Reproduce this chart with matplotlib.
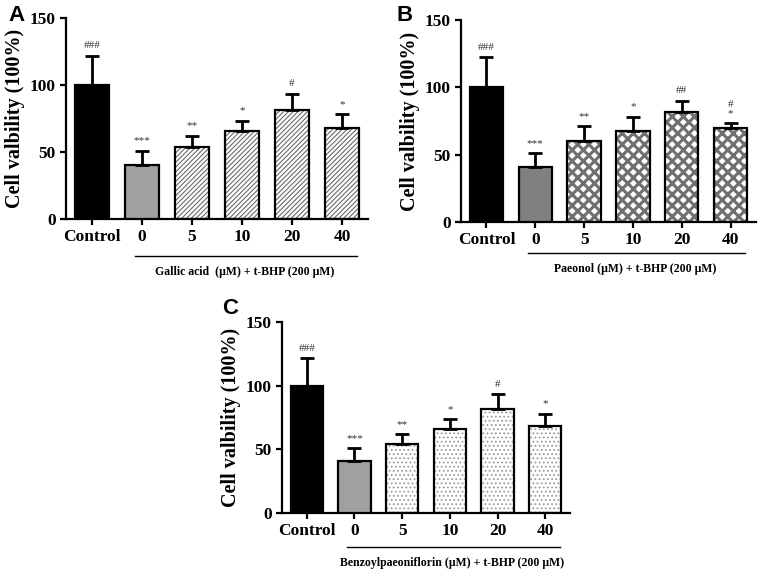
import matplotlib
matplotlib.use("Agg")
import matplotlib.pyplot as plt
import matplotlib.transforms as mtransforms

plt.rcParams["font.family"] = ["Liberation Serif", "DejaVu Serif"]

# ---- data ----
groups = ["Control", "0", "5", "10", "20", "40"]

gallic_mean = [100, 40.5, 54, 66, 81.5, 68]
gallic_err = [22, 10.5, 8, 7.5, 12, 10]
gallic_sig = ["###", "***", "**", "*", "#", "*"]

paeonol_mean = [100, 40.5, 60.5, 67.5, 82, 70]
paeonol_err = [22.5, 10.5, 10.5, 10.5, 8, 3.5]
paeonol_sig = ["###", "***", "**", "*", "##", "#\n*"]

benzoyl_mean = [100, 40.5, 54, 66, 81.5, 68]
benzoyl_err = [22, 10.5, 8, 7.5, 12, 10]
benzoyl_sig = ["###", "***", "**", "*", "#", "*"]

W, H = 768, 573


def px_axes(fig, left, right, y0, y150):
    return fig.add_axes([left / W, 1 - y0 / H, (right - left) / W, (y0 - y150) / H])


def panel(ax, means, errs, sigs, hatch, hatch_color, zero_color, hatch_lw, xlabel, lw_h):
    x = list(range(len(groups)))
    for i, (m, e) in enumerate(zip(means, errs)):
        if i == 0:
            ax.bar(i, m, width=0.68, color="black", edgecolor="black", linewidth=1.6, zorder=3)
        elif i == 1:
            ax.bar(i, m, width=0.68, color=zero_color, edgecolor="black", linewidth=1.6, zorder=3)
        else:
            with plt.rc_context({"hatch.linewidth": hatch_lw}):
                ax.bar(i, m, width=0.68, color="white", edgecolor=hatch_color,
                       hatch=hatch, linewidth=0, zorder=2)
            ax.bar(i, m, width=0.68, color="none", edgecolor="black",
                   linewidth=1.6, zorder=3)
        ax.errorbar(i, m, yerr=[[0], [e]], color="black", capsize=5,
                    elinewidth=2, capthick=2, zorder=4)
        ax.text(i, m + e + 4, sigs[i], ha="center", va="bottom", fontsize=8,
                color="#333333", linespacing=0.9)

    ax.set_xlim(-0.52, 5.52)
    ax.set_ylim(0, 150)
    ax.set_yticks([0, 50, 100, 150])
    ax.set_xticks(x)
    ax.set_xticklabels(groups)
    for lab in ax.get_xticklabels() + ax.get_yticklabels():
        lab.set_fontweight("bold")
        lab.set_fontsize(12.5)
    ax.tick_params(direction="out", width=1.6, length=4)
    for s in ["top", "right"]:
        ax.spines[s].set_visible(False)
    for s in ["left", "bottom"]:
        ax.spines[s].set_linewidth(1.6)
    ax.set_ylabel("Cell valbility (100%)", fontsize=14.5, fontweight="bold", labelpad=3)

    tr = mtransforms.blended_transform_factory(ax.transData, ax.transAxes)
    ax.plot([0.85, 5.3], [lw_h, lw_h], color="black", lw=1.0, transform=tr, clip_on=False)
    ax.text(3.05, lw_h - 0.05, xlabel, ha="center", va="top", fontsize=8.5,
            fontweight="bold", transform=tr)


fig = plt.figure(figsize=(W / 100, H / 100), dpi=100)

axA = px_axes(fig, 66, 368, 219, 18)
panel(axA, gallic_mean, gallic_err, gallic_sig, "///////", "#6a6a6a", "#a0a0a0", 0.8,
      "Gallic acid  (\u00b5M) + t-BHP (200 \u00b5M)", -0.185)

axB = px_axes(fig, 461, 756, 222, 20)
panel(axB, paeonol_mean, paeonol_err, paeonol_sig, "xxx", "#707070", "#808080", 2.2,
      "Paeonol (\u00b5M) + t-BHP (200 \u00b5M)", -0.155)

axC = px_axes(fig, 282, 570, 513, 322)
panel(axC, benzoyl_mean, benzoyl_err, benzoyl_sig, "....", "#9a9a9a", "#a0a0a0", 0.8,
      "Benzoylpaeoniflorin (\u00b5M) + t-BHP (200 \u00b5M)", -0.18)

for lab, xp, yp in [("A", 8, 5), ("B", 397, 5), ("C", 222, 298)]:
    fig.text(xp / W, 1 - yp / H, lab, fontsize=16, fontweight="bold",
             family="Liberation Sans", ha="left", va="top")

fig.savefig("out.png", dpi=100)
